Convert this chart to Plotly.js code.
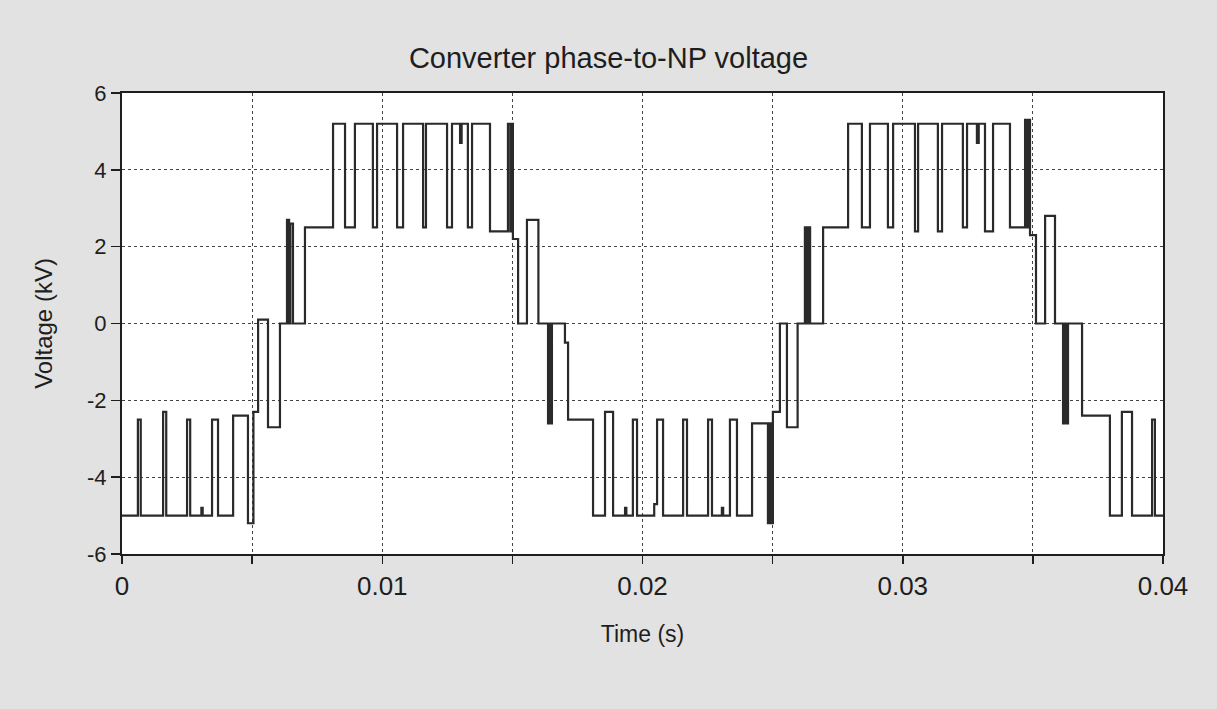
<!DOCTYPE html>
<html>
<head>
<meta charset="utf-8">
<script src="https://cdn.plot.ly/plotly-3.0.1.min.js"></script>
<style>
  html, body { margin: 0; padding: 0; background: #e2e2e2; }
  #chart { width: 1217px; height: 709px; }
</style>
</head>
<body>
<div id="chart"></div>
<script>
// Switching instants (s) and the voltage level (kV) held from each instant onward
const timeS = [
  0.00000, 0.00061, 0.00072, 0.00158, 0.00170, 0.00250, 0.00262, 0.00305, 0.00310, 0.00346,
  0.00369, 0.00427, 0.00484, 0.00505, 0.00523, 0.00561, 0.00607, 0.00634, 0.00642, 0.00647,
  0.00657, 0.00703, 0.00811, 0.00857, 0.00895, 0.00964, 0.00980, 0.01057, 0.01080, 0.01157,
  0.01168, 0.01249, 0.01268, 0.01299, 0.01305, 0.01329, 0.01345, 0.01414, 0.01483, 0.01492,
  0.01497, 0.01502, 0.01522, 0.01556, 0.01600, 0.01637, 0.01645, 0.01648, 0.01652, 0.01702,
  0.01714, 0.01810, 0.01856, 0.01887, 0.01933, 0.01938, 0.01963, 0.01979, 0.02045, 0.02056,
  0.02079, 0.02156, 0.02171, 0.02252, 0.02267, 0.02305, 0.02310, 0.02336, 0.02363, 0.02421,
  0.02482, 0.02490, 0.02495, 0.02501, 0.02528, 0.02555, 0.02596, 0.02624, 0.02632, 0.02637,
  0.02644, 0.02694, 0.02790, 0.02843, 0.02874, 0.02943, 0.02963, 0.03047, 0.03059, 0.03135,
  0.03151, 0.03231, 0.03247, 0.03285, 0.03292, 0.03316, 0.03347, 0.03412, 0.03470, 0.03478,
  0.03483, 0.03489, 0.03512, 0.03547, 0.03585, 0.03616, 0.03624, 0.03628, 0.03635, 0.03689,
  0.03796, 0.03842, 0.03881, 0.03958, 0.03969, 0.04000
];
const voltageKV = [
  -5.0, -2.5, -5.0, -2.3, -5.0, -2.5, -5.0, -4.8, -5.0, -2.5,
  -5.0, -2.4, -5.2, -2.3, 0.1, -2.7, 0.0, 2.7, 0.0, 2.6,
  0.0, 2.5, 5.2, 2.5, 5.2, 2.5, 5.2, 2.5, 5.2, 2.5,
  5.2, 2.5, 5.2, 4.7, 5.2, 2.5, 5.2, 2.4, 5.2, 2.4,
  5.2, 2.2, 0.0, 2.7, 0.0, -2.6, 0.0, -2.6, 0.0, -0.5,
  -2.5, -5.0, -2.3, -5.0, -4.8, -5.0, -2.5, -5.0, -4.7, -2.5,
  -5.0, -2.5, -5.0, -2.5, -5.0, -4.8, -5.0, -2.5, -5.0, -2.6,
  -5.2, -2.6, -5.2, -2.3, 0.0, -2.7, 0.0, 2.5, 0.0, 2.5,
  0.0, 2.5, 5.2, 2.5, 5.2, 2.5, 5.2, 2.4, 5.2, 2.4,
  5.2, 2.5, 5.2, 4.7, 5.2, 2.4, 5.2, 2.5, 5.3, 2.5,
  5.3, 2.3, 0.0, 2.8, 0.0, -2.6, 0.0, -2.6, 0.0, -2.4,
  -5.0, -2.3, -5.0, -2.5, -5.0, -5.0
];
const xTickVals = [0, 0.005, 0.01, 0.015, 0.02, 0.025, 0.03, 0.035, 0.04];
const xTickText = ['0', '', '0.01', '', '0.02', '', '0.03', '', '0.04'];
const yTickVals = [-6, -4, -2, 0, 2, 4, 6];
const yTickText = ['-6', '-4', '-2', '0', '2', '4', '6'];

const trace = {
  x: timeS,
  y: voltageKV,
  type: 'scatter',
  mode: 'lines',
  line: { shape: 'hv', color: '#2a2a2a', width: 2.2 },
  hoverinfo: 'x+y'
};

const font = { family: 'Liberation Sans, Arial, sans-serif', color: '#1e1e1e' };

const layout = {
  width: 1217,
  height: 709,
  margin: { l: 122, r: 54, t: 93, b: 155 },
  paper_bgcolor: '#e2e2e2',
  plot_bgcolor: '#ffffff',
  showlegend: false,
  font: Object.assign({ size: 21 }, font),
  title: {
    text: 'Converter phase-to-NP voltage',
    font: Object.assign({ size: 29 }, font),
    x: 0.5, xanchor: 'center',
    y: 1 - 58 / 709, yanchor: 'middle'
  },
  xaxis: {
    range: [0, 0.04],
    tickmode: 'array',
    tickvals: xTickVals,
    ticktext: xTickText,
    ticks: 'outside', ticklen: 8, tickwidth: 1.5, tickcolor: '#1e1e1e',
    showline: true, linecolor: '#1e1e1e', linewidth: 2, mirror: true,
    showgrid: true, gridcolor: '#444', griddash: 'dot', gridwidth: 1,
    zeroline: false,
    tickfont: Object.assign({ size: 26 }, font),
    title: { text: 'Time (s)', font: Object.assign({ size: 23 }, font), standoff: 26 }
  },
  yaxis: {
    range: [-6, 6],
    tickmode: 'array',
    tickvals: yTickVals,
    ticktext: yTickText,
    ticks: 'outside', ticklen: 9, tickwidth: 1.5, tickcolor: '#1e1e1e',
    showline: true, linecolor: '#1e1e1e', linewidth: 2, mirror: true,
    showgrid: true, gridcolor: '#444', griddash: 'dot', gridwidth: 1,
    zeroline: false,
    tickfont: Object.assign({ size: 22 }, font),
    title: { text: 'Voltage (kV)', font: Object.assign({ size: 24 }, font), standoff: 28 }
  }
};

Plotly.newPlot('chart', [trace], layout, { displayModeBar: false, staticPlot: true });
</script>
</body>
</html>
